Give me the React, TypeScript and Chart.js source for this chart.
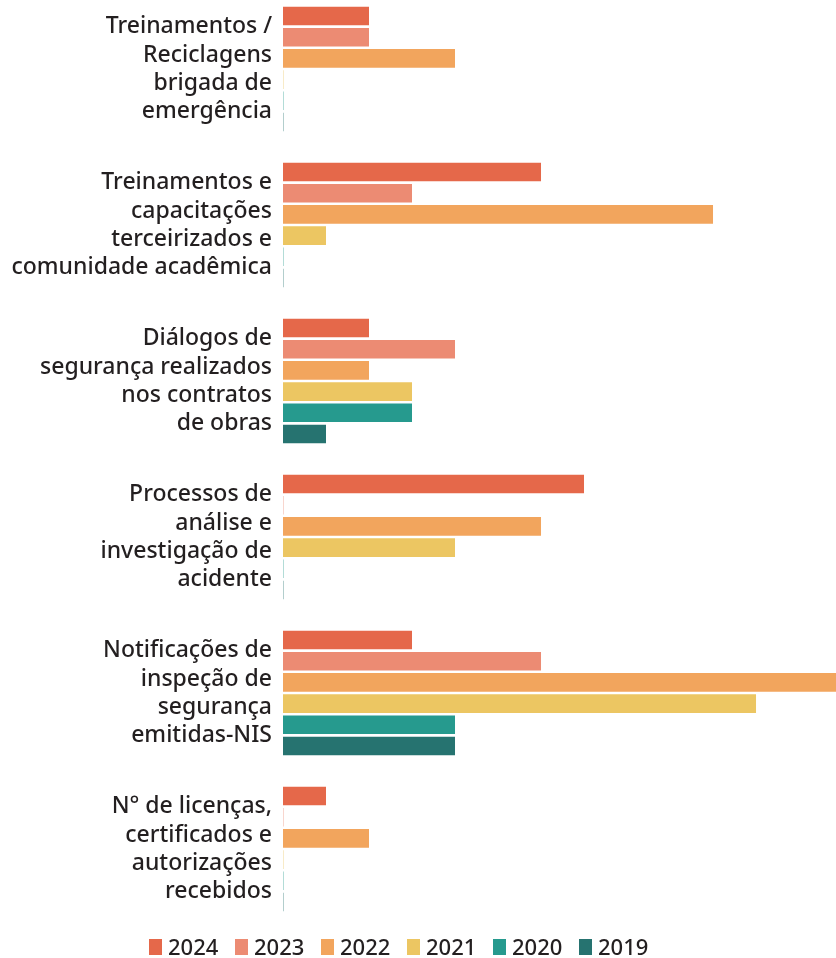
import React, { useEffect, useRef } from 'react';
import { Chart, registerables } from 'chart.js';

Chart.register(...registerables);

const categories: string[][] = [
  ['Treinamentos /', 'Reciclagens', 'brigada de', 'emergência'],
  ['Treinamentos e', 'capacitações', 'terceirizados e', 'comunidade acadêmica'],
  ['Diálogos de', 'segurança realizados', 'nos contratos', 'de obras'],
  ['Processos de', 'análise e', 'investigação de', 'acidente'],
  ['Notificações de', 'inspeção de', 'segurança', 'emitidas-NIS'],
  ['N° de licenças,', 'certificados e', 'autorizações', 'recebidos'],
];

const years = ['2024', '2023', '2022', '2021', '2020', '2019'];
const colors = ['#E5684A', '#EC8B73', '#F2A55D', '#ECC662', '#269A8E', '#267370'];

const v2024 = [2, 6, 2, 7, 3, 1];
const v2023 = [2, 3, 4, 0, 6, 0];
const v2022 = [4, 10, 2, 6, 13, 2];
const v2021 = [0, 1, 3, 4, 11, 0];
const v2020 = [0, 0, 3, 0, 4, 0];
const v2019 = [0, 0, 1, 0, 4, 0];

const series = [v2024, v2023, v2022, v2021, v2020, v2019];

const FONT = '"Noto Sans", sans-serif';
const TEXT = '#231f20';

export default function App() {
  const ref = useRef<HTMLCanvasElement | null>(null);

  useEffect(() => {
    if (!ref.current) return;
    const chart = new Chart(ref.current, {
      type: 'bar',
      data: {
        labels: categories,
        datasets: years.map((y, i) => ({
          label: y,
          data: series[i],
          backgroundColor: colors[i],
          borderWidth: 0,
          barPercentage: 0.88,
          categoryPercentage: 0.815,
          minBarLength: 0.35,
        })),
      },
      options: {
        indexAxis: 'y',
        animation: false,
        responsive: false,
        maintainAspectRatio: false,
        layout: { padding: 0 },
        plugins: {
          legend: { display: false },
          tooltip: { enabled: false },
        },
        scales: {
          x: {
            display: false,
            min: 0,
            max: 12.86,
          },
          y: {
            grid: { display: false, drawTicks: false },
            border: { display: false },
            ticks: {
              color: TEXT,
              padding: 11,
              font: { family: FONT, size: 23, weight: 500, lineHeight: 1.22 },
            },
            afterFit: (scale: any) => {
              scale.width = 283;
              scale.paddingTop = 0;
              scale.paddingBottom = 0;
            },
          },
        },
      },
    });
    return () => chart.destroy();
  }, []);

  return (
    <div>
      <div style={{ position: 'fixed', top: -9, left: 0, width: 836, height: 936 }}>
        <canvas ref={ref} width={836} height={936} style={{ width: 836, height: 936, display: 'block' }} />
      </div>
      <div
        style={{
          position: 'fixed',
          top: 938,
          left: 149,
          display: 'flex',
          alignItems: 'center',
          fontFamily: FONT,
          fontSize: 22,
          fontWeight: 500,
          color: TEXT,
          lineHeight: '17px',
        }}
      >
        {years.map((y, i) => (
          <div key={y} style={{ display: 'flex', alignItems: 'center', width: i < years.length - 1 ? 86 : 'auto' }}>
            <span style={{ display: 'inline-block', width: 13, height: 16, background: colors[i], marginRight: 6 }} />
            <span>{y}</span>
          </div>
        ))}
      </div>
    </div>
  );
}
